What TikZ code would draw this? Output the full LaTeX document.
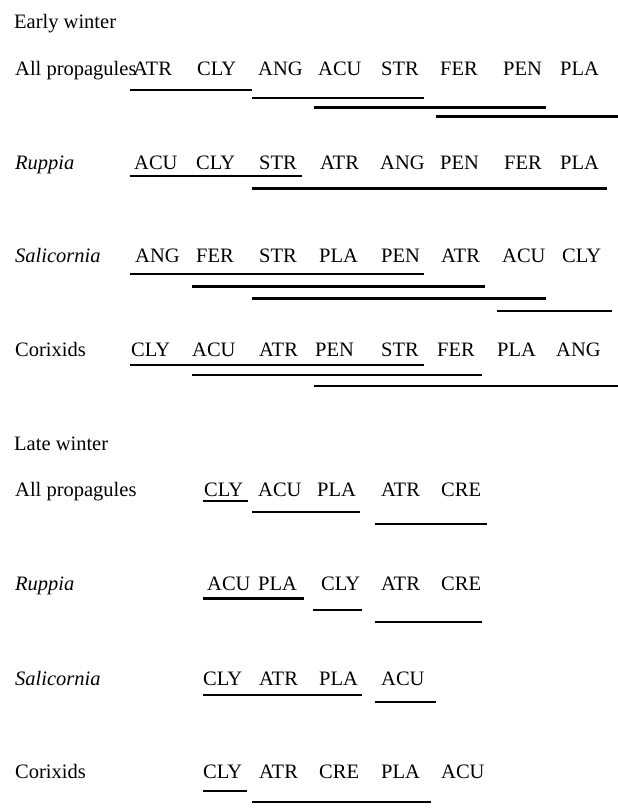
\documentclass[tikz,border=0pt]{standalone}
\usepackage{fontspec}
\setmainfont{Liberation Serif}
\begin{document}
\begin{tikzpicture}[x=1pt,y=-1pt,
  lab/.style={anchor=base west,inner sep=0pt,font=\fontsize{20.5}{24}\selectfont},
  itlab/.style={lab,font=\fontsize{20.5}{24}\selectfont\itshape},
  bar/.style={line width=2.4pt}]
\useasboundingbox[fill=white] (0,0) rectangle (618,812);
% headings
\node[lab] (hEarly) at (14,28) {Early winter};
\node[lab] (hLate) at (14,450) {Late winter};
% Early winter rows
\node[lab] (r1) at (15,75) {All propagules};
\foreach \x/\t [count=\i] in {133/ATR,197/CLY,258/ANG,318/ACU,381/STR,440/FER,503/PEN,560/PLA}
  \node[lab] (r1n\i) at (\x,75) {\t};
\node[itlab] (r2) at (15,169) {Ruppia};
\foreach \x/\t [count=\i] in {134/ACU,196/CLY,259/STR,320/ATR,380/ANG,440/PEN,504/FER,560/PLA}
  \node[lab] (r2n\i) at (\x,169) {\t};
\node[itlab] (r3) at (15,262.3) {Salicornia};
\foreach \x/\t [count=\i] in {135/ANG,196/FER,259/STR,319/PLA,381/PEN,441/ATR,502/ACU,562/CLY}
  \node[lab] (r3n\i) at (\x,262.3) {\t};
\node[lab] (r4) at (15,356) {Corixids};
\foreach \x/\t [count=\i] in {131/CLY,192/ACU,259/ATR,315/PEN,381/STR,437/FER,497/PLA,556/ANG}
  \node[lab] (r4n\i) at (\x,356) {\t};
% Late winter rows
\node[lab] (r5) at (15,496.7) {All propagules};
\foreach \x/\t [count=\i] in {204/CLY,258/ACU,317/PLA,381/ATR,441/CRE}
  \node[lab] (r5n\i) at (\x,496.7) {\t};
\node[itlab] (r6) at (15,590.5) {Ruppia};
\foreach \x/\t [count=\i] in {207/ACU,258/PLA,321/CLY,381/ATR,441/CRE}
  \node[lab] (r6n\i) at (\x,590.5) {\t};
\node[itlab] (r7) at (15,685) {Salicornia};
\foreach \x/\t [count=\i] in {203/CLY,259/ATR,319/PLA,381/ACU}
  \node[lab] (r7n\i) at (\x,685) {\t};
\node[lab] (r8) at (15,778.3) {Corixids};
\foreach \x/\t [count=\i] in {203/CLY,259/ATR,319/CRE,381/PLA,441/ACU}
  \node[lab] (r8n\i) at (\x,778.3) {\t};
% underlines (homogeneous groups)
\foreach \y/\a/\b in {
  90/130/252, 97.7/252/424, 107.3/314/546, 116.3/436/618,
  175.7/130/301.5, 188.3/252/607,
  274/130/424, 286.3/192/485, 298.6/252/546, 310.7/497/612,
  365/130/424, 375/192/482, 386/314/618,
  500.7/203/247.5, 511.7/252/359.5, 524/374.5/487,
  598.3/203/303.5, 610/313/362, 622/374.5/482,
  695/203/362, 701.7/374.5/435.5,
  790.7/203/246.5, 801.7/252/430.5}
  \draw[bar] (\a,\y) -- (\b,\y);
\end{tikzpicture}
\end{document}
